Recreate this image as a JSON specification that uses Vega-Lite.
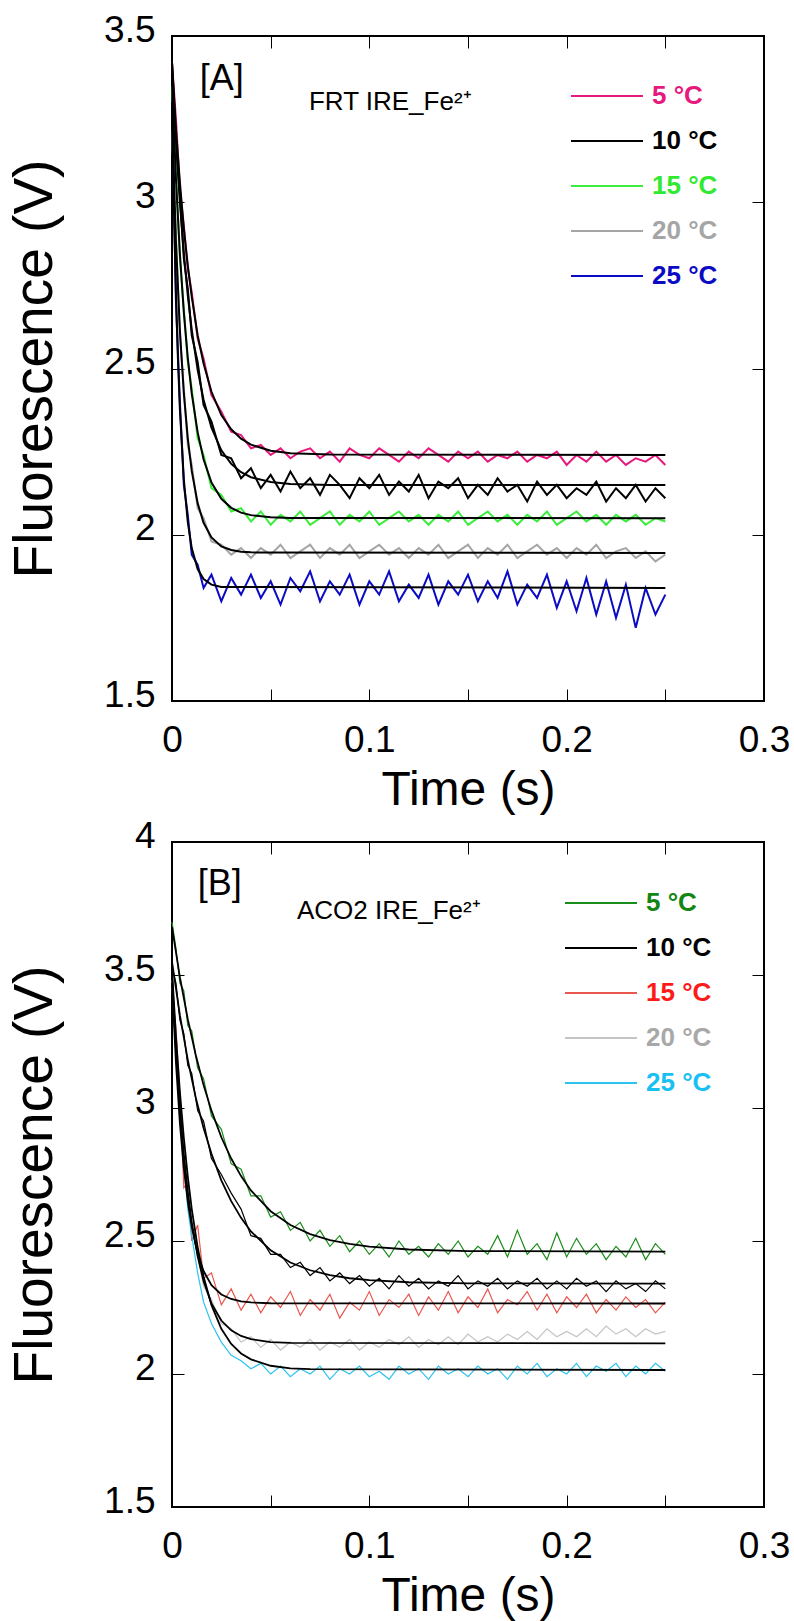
{
"$schema": "https://vega.github.io/schema/vega-lite/v6.json",
"background": "white",
"padding": {"left": 6, "top": 10, "right": 0, "bottom": 0},
"spacing": 1,
"config": {
  "font": "Liberation Sans",
  "view": {"stroke": "black", "strokeWidth": 2},
  "axis": {"domain": false, "grid": false, "tickColor": "black", "tickWidth": 1, "tickSize": -12, "labelColor": "black", "titleColor": "black", "labelFont": "Liberation Sans", "titleFont": "Liberation Sans", "titleFontWeight": "normal", "labelFontSize": 37, "titleFontSize": 48},
  "legend": {"orient": "none", "title": null, "symbolType": "M-3,0H3", "symbolSize": 576, "symbolStrokeWidth": 2, "symbolFillColor": "transparent", "labelFontSize": 26, "labelFontWeight": "bold", "labelFont": "Liberation Sans", "labelOffset": 32, "rowPadding": 19, "padding": 0}
},
"datasets": {
"a": [
{"s":"5","t":0,"v":3.42},{"s":"5","t":0.002,"v":3.25},{"s":"5","t":0.004,"v":3.04},{"s":"5","t":0.006,"v":2.93},{"s":"5","t":0.008,"v":2.8},{"s":"5","t":0.01,"v":2.73},{"s":"5","t":0.013,"v":2.59},{"s":"5","t":0.016,"v":2.53},{"s":"5","t":0.02,"v":2.42},{"s":"5","t":0.025,"v":2.37},{"s":"5","t":0.03,"v":2.31},{"s":"5","t":0.035,"v":2.3},{"s":"5","t":0.04,"v":2.26},{"s":"5","t":0.045,"v":2.27},{"s":"5","t":0.05,"v":2.24},{"s":"5","t":0.055,"v":2.26},{"s":"5","t":0.06,"v":2.23},{"s":"5","t":0.065,"v":2.25},{"s":"5","t":0.07,"v":2.26},{"s":"5","t":0.075,"v":2.23},{"s":"5","t":0.08,"v":2.25},{"s":"5","t":0.085,"v":2.22},{"s":"5","t":0.09,"v":2.26},{"s":"5","t":0.095,"v":2.24},{"s":"5","t":0.1,"v":2.23},{"s":"5","t":0.105,"v":2.26},{"s":"5","t":0.11,"v":2.24},{"s":"5","t":0.115,"v":2.22},{"s":"5","t":0.12,"v":2.25},{"s":"5","t":0.125,"v":2.23},{"s":"5","t":0.13,"v":2.26},{"s":"5","t":0.135,"v":2.24},{"s":"5","t":0.14,"v":2.22},{"s":"5","t":0.145,"v":2.25},{"s":"5","t":0.15,"v":2.23},{"s":"5","t":0.155,"v":2.25},{"s":"5","t":0.16,"v":2.22},{"s":"5","t":0.165,"v":2.24},{"s":"5","t":0.17,"v":2.23},{"s":"5","t":0.175,"v":2.25},{"s":"5","t":0.18,"v":2.22},{"s":"5","t":0.185,"v":2.24},{"s":"5","t":0.19,"v":2.23},{"s":"5","t":0.195,"v":2.25},{"s":"5","t":0.2,"v":2.21},{"s":"5","t":0.205,"v":2.24},{"s":"5","t":0.21,"v":2.22},{"s":"5","t":0.215,"v":2.25},{"s":"5","t":0.22,"v":2.22},{"s":"5","t":0.225,"v":2.24},{"s":"5","t":0.23,"v":2.21},{"s":"5","t":0.235,"v":2.23},{"s":"5","t":0.24,"v":2.22},{"s":"5","t":0.245,"v":2.24},{"s":"5","t":0.25,"v":2.21},
{"s":"10","t":0,"v":3.4},{"s":"10","t":0.002,"v":3.17},{"s":"10","t":0.004,"v":3.02},{"s":"10","t":0.006,"v":2.83},{"s":"10","t":0.008,"v":2.74},{"s":"10","t":0.01,"v":2.6},{"s":"10","t":0.013,"v":2.52},{"s":"10","t":0.016,"v":2.39},{"s":"10","t":0.02,"v":2.34},{"s":"10","t":0.025,"v":2.24},{"s":"10","t":0.03,"v":2.23},{"s":"10","t":0.035,"v":2.17},{"s":"10","t":0.04,"v":2.2},{"s":"10","t":0.045,"v":2.14},{"s":"10","t":0.05,"v":2.18},{"s":"10","t":0.055,"v":2.13},{"s":"10","t":0.06,"v":2.19},{"s":"10","t":0.065,"v":2.14},{"s":"10","t":0.07,"v":2.17},{"s":"10","t":0.075,"v":2.12},{"s":"10","t":0.08,"v":2.18},{"s":"10","t":0.085,"v":2.15},{"s":"10","t":0.09,"v":2.11},{"s":"10","t":0.095,"v":2.17},{"s":"10","t":0.1,"v":2.14},{"s":"10","t":0.105,"v":2.18},{"s":"10","t":0.11,"v":2.12},{"s":"10","t":0.115,"v":2.16},{"s":"10","t":0.12,"v":2.13},{"s":"10","t":0.125,"v":2.18},{"s":"10","t":0.13,"v":2.11},{"s":"10","t":0.135,"v":2.16},{"s":"10","t":0.14,"v":2.14},{"s":"10","t":0.145,"v":2.17},{"s":"10","t":0.15,"v":2.11},{"s":"10","t":0.155,"v":2.15},{"s":"10","t":0.16,"v":2.12},{"s":"10","t":0.165,"v":2.17},{"s":"10","t":0.17,"v":2.13},{"s":"10","t":0.175,"v":2.15},{"s":"10","t":0.18,"v":2.1},{"s":"10","t":0.185,"v":2.16},{"s":"10","t":0.19,"v":2.12},{"s":"10","t":0.195,"v":2.15},{"s":"10","t":0.2,"v":2.11},{"s":"10","t":0.205,"v":2.14},{"s":"10","t":0.21,"v":2.12},{"s":"10","t":0.215,"v":2.16},{"s":"10","t":0.22,"v":2.1},{"s":"10","t":0.225,"v":2.14},{"s":"10","t":0.23,"v":2.11},{"s":"10","t":0.235,"v":2.15},{"s":"10","t":0.24,"v":2.1},{"s":"10","t":0.245,"v":2.14},{"s":"10","t":0.25,"v":2.11},
{"s":"15","t":0,"v":3.35},{"s":"15","t":0.002,"v":3.09},{"s":"15","t":0.004,"v":2.83},{"s":"15","t":0.006,"v":2.68},{"s":"15","t":0.008,"v":2.52},{"s":"15","t":0.01,"v":2.44},{"s":"15","t":0.013,"v":2.29},{"s":"15","t":0.016,"v":2.24},{"s":"15","t":0.02,"v":2.14},{"s":"15","t":0.025,"v":2.12},{"s":"15","t":0.03,"v":2.07},{"s":"15","t":0.035,"v":2.08},{"s":"15","t":0.04,"v":2.04},{"s":"15","t":0.045,"v":2.07},{"s":"15","t":0.05,"v":2.03},{"s":"15","t":0.055,"v":2.06},{"s":"15","t":0.06,"v":2.04},{"s":"15","t":0.065,"v":2.07},{"s":"15","t":0.07,"v":2.03},{"s":"15","t":0.075,"v":2.05},{"s":"15","t":0.08,"v":2.07},{"s":"15","t":0.085,"v":2.03},{"s":"15","t":0.09,"v":2.06},{"s":"15","t":0.095,"v":2.04},{"s":"15","t":0.1,"v":2.07},{"s":"15","t":0.105,"v":2.03},{"s":"15","t":0.11,"v":2.05},{"s":"15","t":0.115,"v":2.07},{"s":"15","t":0.12,"v":2.04},{"s":"15","t":0.125,"v":2.06},{"s":"15","t":0.13,"v":2.03},{"s":"15","t":0.135,"v":2.06},{"s":"15","t":0.14,"v":2.04},{"s":"15","t":0.145,"v":2.07},{"s":"15","t":0.15,"v":2.03},{"s":"15","t":0.155,"v":2.05},{"s":"15","t":0.16,"v":2.07},{"s":"15","t":0.165,"v":2.04},{"s":"15","t":0.17,"v":2.06},{"s":"15","t":0.175,"v":2.03},{"s":"15","t":0.18,"v":2.06},{"s":"15","t":0.185,"v":2.04},{"s":"15","t":0.19,"v":2.07},{"s":"15","t":0.195,"v":2.03},{"s":"15","t":0.2,"v":2.05},{"s":"15","t":0.205,"v":2.07},{"s":"15","t":0.21,"v":2.04},{"s":"15","t":0.215,"v":2.06},{"s":"15","t":0.22,"v":2.03},{"s":"15","t":0.225,"v":2.06},{"s":"15","t":0.23,"v":2.04},{"s":"15","t":0.235,"v":2.06},{"s":"15","t":0.24,"v":2.03},{"s":"15","t":0.245,"v":2.05},{"s":"15","t":0.25,"v":2.04},
{"s":"20","t":0,"v":3.22},{"s":"20","t":0.002,"v":2.9},{"s":"20","t":0.004,"v":2.6},{"s":"20","t":0.006,"v":2.44},{"s":"20","t":0.008,"v":2.27},{"s":"20","t":0.01,"v":2.21},{"s":"20","t":0.013,"v":2.08},{"s":"20","t":0.016,"v":2.05},{"s":"20","t":0.02,"v":1.98},{"s":"20","t":0.025,"v":1.97},{"s":"20","t":0.03,"v":1.94},{"s":"20","t":0.035,"v":1.96},{"s":"20","t":0.04,"v":1.93},{"s":"20","t":0.045,"v":1.96},{"s":"20","t":0.05,"v":1.94},{"s":"20","t":0.055,"v":1.97},{"s":"20","t":0.06,"v":1.93},{"s":"20","t":0.065,"v":1.95},{"s":"20","t":0.07,"v":1.97},{"s":"20","t":0.075,"v":1.93},{"s":"20","t":0.08,"v":1.96},{"s":"20","t":0.085,"v":1.94},{"s":"20","t":0.09,"v":1.97},{"s":"20","t":0.095,"v":1.93},{"s":"20","t":0.1,"v":1.95},{"s":"20","t":0.105,"v":1.97},{"s":"20","t":0.11,"v":1.94},{"s":"20","t":0.115,"v":1.96},{"s":"20","t":0.12,"v":1.93},{"s":"20","t":0.125,"v":1.96},{"s":"20","t":0.13,"v":1.94},{"s":"20","t":0.135,"v":1.97},{"s":"20","t":0.14,"v":1.93},{"s":"20","t":0.145,"v":1.95},{"s":"20","t":0.15,"v":1.97},{"s":"20","t":0.155,"v":1.93},{"s":"20","t":0.16,"v":1.96},{"s":"20","t":0.165,"v":1.94},{"s":"20","t":0.17,"v":1.97},{"s":"20","t":0.175,"v":1.93},{"s":"20","t":0.18,"v":1.95},{"s":"20","t":0.185,"v":1.97},{"s":"20","t":0.19,"v":1.94},{"s":"20","t":0.195,"v":1.96},{"s":"20","t":0.2,"v":1.93},{"s":"20","t":0.205,"v":1.96},{"s":"20","t":0.21,"v":1.94},{"s":"20","t":0.215,"v":1.97},{"s":"20","t":0.22,"v":1.93},{"s":"20","t":0.225,"v":1.95},{"s":"20","t":0.23,"v":1.96},{"s":"20","t":0.235,"v":1.93},{"s":"20","t":0.24,"v":1.95},{"s":"20","t":0.245,"v":1.92},{"s":"20","t":0.25,"v":1.94},
{"s":"25","t":0,"v":3.3},{"s":"25","t":0.002,"v":2.7},{"s":"25","t":0.004,"v":2.4},{"s":"25","t":0.006,"v":2.15},{"s":"25","t":0.008,"v":2.06},{"s":"25","t":0.01,"v":1.94},{"s":"25","t":0.013,"v":1.91},{"s":"25","t":0.016,"v":1.84},{"s":"25","t":0.02,"v":1.88},{"s":"25","t":0.025,"v":1.8},{"s":"25","t":0.03,"v":1.87},{"s":"25","t":0.035,"v":1.82},{"s":"25","t":0.04,"v":1.88},{"s":"25","t":0.045,"v":1.81},{"s":"25","t":0.05,"v":1.86},{"s":"25","t":0.055,"v":1.79},{"s":"25","t":0.06,"v":1.87},{"s":"25","t":0.065,"v":1.83},{"s":"25","t":0.07,"v":1.89},{"s":"25","t":0.075,"v":1.8},{"s":"25","t":0.08,"v":1.86},{"s":"25","t":0.085,"v":1.82},{"s":"25","t":0.09,"v":1.88},{"s":"25","t":0.095,"v":1.79},{"s":"25","t":0.1,"v":1.86},{"s":"25","t":0.105,"v":1.82},{"s":"25","t":0.11,"v":1.89},{"s":"25","t":0.115,"v":1.8},{"s":"25","t":0.12,"v":1.85},{"s":"25","t":0.125,"v":1.81},{"s":"25","t":0.13,"v":1.88},{"s":"25","t":0.135,"v":1.79},{"s":"25","t":0.14,"v":1.86},{"s":"25","t":0.145,"v":1.82},{"s":"25","t":0.15,"v":1.88},{"s":"25","t":0.155,"v":1.8},{"s":"25","t":0.16,"v":1.86},{"s":"25","t":0.165,"v":1.81},{"s":"25","t":0.17,"v":1.89},{"s":"25","t":0.175,"v":1.79},{"s":"25","t":0.18,"v":1.85},{"s":"25","t":0.185,"v":1.81},{"s":"25","t":0.19,"v":1.88},{"s":"25","t":0.195,"v":1.78},{"s":"25","t":0.2,"v":1.86},{"s":"25","t":0.205,"v":1.77},{"s":"25","t":0.21,"v":1.87},{"s":"25","t":0.215,"v":1.76},{"s":"25","t":0.22,"v":1.86},{"s":"25","t":0.225,"v":1.75},{"s":"25","t":0.23,"v":1.85},{"s":"25","t":0.235,"v":1.72},{"s":"25","t":0.24,"v":1.84},{"s":"25","t":0.245,"v":1.76},{"s":"25","t":0.25,"v":1.82}
],
"af": [
{"s":"5","t":0,"v":3.42},{"s":"5","t":0.002,"v":3.22},{"s":"5","t":0.004,"v":3.06},{"s":"5","t":0.006,"v":2.92},{"s":"5","t":0.008,"v":2.81},{"s":"5","t":0.01,"v":2.716},{"s":"5","t":0.013,"v":2.6},{"s":"5","t":0.016,"v":2.515},{"s":"5","t":0.02,"v":2.43},{"s":"5","t":0.025,"v":2.36},{"s":"5","t":0.03,"v":2.317},{"s":"5","t":0.035,"v":2.289},{"s":"5","t":0.04,"v":2.271},{"s":"5","t":0.05,"v":2.2525},{"s":"5","t":0.06,"v":2.245},{"s":"5","t":0.08,"v":2.241},{"s":"5","t":0.25,"v":2.24},
{"s":"10","t":0,"v":3.42},{"s":"10","t":0.002,"v":3.19},{"s":"10","t":0.004,"v":3.0},{"s":"10","t":0.006,"v":2.847},{"s":"10","t":0.008,"v":2.72},{"s":"10","t":0.01,"v":2.617},{"s":"10","t":0.013,"v":2.496},{"s":"10","t":0.016,"v":2.406},{"s":"10","t":0.02,"v":2.322},{"s":"10","t":0.025,"v":2.254},{"s":"10","t":0.03,"v":2.213},{"s":"10","t":0.035,"v":2.188},{"s":"10","t":0.04,"v":2.173},{"s":"10","t":0.05,"v":2.1585},{"s":"10","t":0.06,"v":2.153},{"s":"10","t":0.08,"v":2.15},{"s":"10","t":0.25,"v":2.15},
{"s":"15","t":0,"v":3.36},{"s":"15","t":0.002,"v":3.07},{"s":"15","t":0.004,"v":2.845},{"s":"15","t":0.006,"v":2.668},{"s":"15","t":0.008,"v":2.532},{"s":"15","t":0.01,"v":2.425},{"s":"15","t":0.013,"v":2.308},{"s":"15","t":0.016,"v":2.227},{"s":"15","t":0.02,"v":2.157},{"s":"15","t":0.025,"v":2.108},{"s":"15","t":0.03,"v":2.081},{"s":"15","t":0.035,"v":2.0665},{"s":"15","t":0.04,"v":2.059},{"s":"15","t":0.05,"v":2.0525},{"s":"15","t":0.06,"v":2.0507},{"s":"15","t":0.25,"v":2.05},
{"s":"20","t":0,"v":3.25},{"s":"20","t":0.002,"v":2.88},{"s":"20","t":0.004,"v":2.615},{"s":"20","t":0.006,"v":2.425},{"s":"20","t":0.008,"v":2.29},{"s":"20","t":0.01,"v":2.192},{"s":"20","t":0.013,"v":2.095},{"s":"20","t":0.016,"v":2.036},{"s":"20","t":0.02,"v":1.992},{"s":"20","t":0.025,"v":1.965},{"s":"20","t":0.03,"v":1.954},{"s":"20","t":0.035,"v":1.949},{"s":"20","t":0.04,"v":1.947},{"s":"20","t":0.25,"v":1.945},
{"s":"25","t":0,"v":3.3},{"s":"25","t":0.001,"v":2.977},{"s":"25","t":0.002,"v":2.726},{"s":"25","t":0.003,"v":2.53},{"s":"25","t":0.004,"v":2.377},{"s":"25","t":0.006,"v":2.166},{"s":"25","t":0.008,"v":2.038},{"s":"25","t":0.01,"v":1.96},{"s":"25","t":0.013,"v":1.897},{"s":"25","t":0.016,"v":1.867},{"s":"25","t":0.02,"v":1.85},{"s":"25","t":0.025,"v":1.843},{"s":"25","t":0.25,"v":1.84}
],
"b": [
{"s":"5","t":0,"v":3.7},{"s":"5","t":0.002,"v":3.6},{"s":"5","t":0.004,"v":3.47},{"s":"5","t":0.006,"v":3.44},{"s":"5","t":0.008,"v":3.31},{"s":"5","t":0.01,"v":3.29},{"s":"5","t":0.013,"v":3.15},{"s":"5","t":0.016,"v":3.11},{"s":"5","t":0.02,"v":2.97},{"s":"5","t":0.025,"v":2.92},{"s":"5","t":0.03,"v":2.79},{"s":"5","t":0.035,"v":2.77},{"s":"5","t":0.04,"v":2.67},{"s":"5","t":0.045,"v":2.67},{"s":"5","t":0.05,"v":2.59},{"s":"5","t":0.055,"v":2.61},{"s":"5","t":0.06,"v":2.54},{"s":"5","t":0.065,"v":2.57},{"s":"5","t":0.07,"v":2.5},{"s":"5","t":0.075,"v":2.54},{"s":"5","t":0.08,"v":2.48},{"s":"5","t":0.085,"v":2.52},{"s":"5","t":0.09,"v":2.46},{"s":"5","t":0.095,"v":2.5},{"s":"5","t":0.1,"v":2.45},{"s":"5","t":0.105,"v":2.49},{"s":"5","t":0.11,"v":2.44},{"s":"5","t":0.115,"v":2.5},{"s":"5","t":0.12,"v":2.45},{"s":"5","t":0.125,"v":2.48},{"s":"5","t":0.13,"v":2.44},{"s":"5","t":0.135,"v":2.49},{"s":"5","t":0.14,"v":2.45},{"s":"5","t":0.145,"v":2.5},{"s":"5","t":0.15,"v":2.44},{"s":"5","t":0.155,"v":2.48},{"s":"5","t":0.16,"v":2.45},{"s":"5","t":0.165,"v":2.52},{"s":"5","t":0.17,"v":2.44},{"s":"5","t":0.175,"v":2.54},{"s":"5","t":0.18,"v":2.45},{"s":"5","t":0.185,"v":2.49},{"s":"5","t":0.19,"v":2.43},{"s":"5","t":0.195,"v":2.53},{"s":"5","t":0.2,"v":2.44},{"s":"5","t":0.205,"v":2.51},{"s":"5","t":0.21,"v":2.45},{"s":"5","t":0.215,"v":2.49},{"s":"5","t":0.22,"v":2.43},{"s":"5","t":0.225,"v":2.48},{"s":"5","t":0.23,"v":2.44},{"s":"5","t":0.235,"v":2.51},{"s":"5","t":0.24,"v":2.43},{"s":"5","t":0.245,"v":2.49},{"s":"5","t":0.25,"v":2.45},
{"s":"10","t":0,"v":3.53},{"s":"10","t":0.002,"v":3.47},{"s":"10","t":0.004,"v":3.33},{"s":"10","t":0.006,"v":3.28},{"s":"10","t":0.008,"v":3.16},{"s":"10","t":0.01,"v":3.13},{"s":"10","t":0.013,"v":2.99},{"s":"10","t":0.016,"v":2.95},{"s":"10","t":0.02,"v":2.81},{"s":"10","t":0.025,"v":2.75},{"s":"10","t":0.03,"v":2.68},{"s":"10","t":0.035,"v":2.62},{"s":"10","t":0.04,"v":2.52},{"s":"10","t":0.045,"v":2.51},{"s":"10","t":0.05,"v":2.45},{"s":"10","t":0.055,"v":2.45},{"s":"10","t":0.06,"v":2.4},{"s":"10","t":0.065,"v":2.42},{"s":"10","t":0.07,"v":2.37},{"s":"10","t":0.075,"v":2.4},{"s":"10","t":0.08,"v":2.35},{"s":"10","t":0.085,"v":2.38},{"s":"10","t":0.09,"v":2.34},{"s":"10","t":0.095,"v":2.37},{"s":"10","t":0.1,"v":2.33},{"s":"10","t":0.105,"v":2.36},{"s":"10","t":0.11,"v":2.32},{"s":"10","t":0.115,"v":2.37},{"s":"10","t":0.12,"v":2.33},{"s":"10","t":0.125,"v":2.36},{"s":"10","t":0.13,"v":2.32},{"s":"10","t":0.135,"v":2.35},{"s":"10","t":0.14,"v":2.33},{"s":"10","t":0.145,"v":2.37},{"s":"10","t":0.15,"v":2.32},{"s":"10","t":0.155,"v":2.35},{"s":"10","t":0.16,"v":2.33},{"s":"10","t":0.165,"v":2.36},{"s":"10","t":0.17,"v":2.32},{"s":"10","t":0.175,"v":2.35},{"s":"10","t":0.18,"v":2.33},{"s":"10","t":0.185,"v":2.36},{"s":"10","t":0.19,"v":2.32},{"s":"10","t":0.195,"v":2.35},{"s":"10","t":0.2,"v":2.32},{"s":"10","t":0.205,"v":2.36},{"s":"10","t":0.21,"v":2.33},{"s":"10","t":0.215,"v":2.35},{"s":"10","t":0.22,"v":2.31},{"s":"10","t":0.225,"v":2.35},{"s":"10","t":0.23,"v":2.32},{"s":"10","t":0.235,"v":2.34},{"s":"10","t":0.24,"v":2.31},{"s":"10","t":0.245,"v":2.35},{"s":"10","t":0.25,"v":2.32},
{"s":"15","t":0,"v":3.45},{"s":"15","t":0.002,"v":3.3},{"s":"15","t":0.004,"v":3.05},{"s":"15","t":0.006,"v":2.7},{"s":"15","t":0.008,"v":2.72},{"s":"15","t":0.01,"v":2.5},{"s":"15","t":0.013,"v":2.56},{"s":"15","t":0.016,"v":2.36},{"s":"15","t":0.02,"v":2.38},{"s":"15","t":0.025,"v":2.26},{"s":"15","t":0.03,"v":2.32},{"s":"15","t":0.035,"v":2.24},{"s":"15","t":0.04,"v":2.3},{"s":"15","t":0.045,"v":2.23},{"s":"15","t":0.05,"v":2.29},{"s":"15","t":0.055,"v":2.25},{"s":"15","t":0.06,"v":2.31},{"s":"15","t":0.065,"v":2.22},{"s":"15","t":0.07,"v":2.28},{"s":"15","t":0.075,"v":2.24},{"s":"15","t":0.08,"v":2.3},{"s":"15","t":0.085,"v":2.21},{"s":"15","t":0.09,"v":2.27},{"s":"15","t":0.095,"v":2.24},{"s":"15","t":0.1,"v":2.31},{"s":"15","t":0.105,"v":2.22},{"s":"15","t":0.11,"v":2.28},{"s":"15","t":0.115,"v":2.25},{"s":"15","t":0.12,"v":2.3},{"s":"15","t":0.125,"v":2.22},{"s":"15","t":0.13,"v":2.29},{"s":"15","t":0.135,"v":2.24},{"s":"15","t":0.14,"v":2.31},{"s":"15","t":0.145,"v":2.23},{"s":"15","t":0.15,"v":2.29},{"s":"15","t":0.155,"v":2.25},{"s":"15","t":0.16,"v":2.32},{"s":"15","t":0.165,"v":2.23},{"s":"15","t":0.17,"v":2.28},{"s":"15","t":0.175,"v":2.26},{"s":"15","t":0.18,"v":2.31},{"s":"15","t":0.185,"v":2.24},{"s":"15","t":0.19,"v":2.3},{"s":"15","t":0.195,"v":2.23},{"s":"15","t":0.2,"v":2.29},{"s":"15","t":0.205,"v":2.25},{"s":"15","t":0.21,"v":2.3},{"s":"15","t":0.215,"v":2.23},{"s":"15","t":0.22,"v":2.28},{"s":"15","t":0.225,"v":2.24},{"s":"15","t":0.23,"v":2.29},{"s":"15","t":0.235,"v":2.25},{"s":"15","t":0.24,"v":2.28},{"s":"15","t":0.245,"v":2.23},{"s":"15","t":0.25,"v":2.27},
{"s":"20","t":0,"v":3.48},{"s":"20","t":0.002,"v":3.2},{"s":"20","t":0.004,"v":3.02},{"s":"20","t":0.006,"v":2.8},{"s":"20","t":0.008,"v":2.7},{"s":"20","t":0.01,"v":2.55},{"s":"20","t":0.013,"v":2.45},{"s":"20","t":0.016,"v":2.33},{"s":"20","t":0.02,"v":2.28},{"s":"20","t":0.025,"v":2.19},{"s":"20","t":0.03,"v":2.17},{"s":"20","t":0.035,"v":2.12},{"s":"20","t":0.04,"v":2.14},{"s":"20","t":0.045,"v":2.1},{"s":"20","t":0.05,"v":2.13},{"s":"20","t":0.055,"v":2.09},{"s":"20","t":0.06,"v":2.12},{"s":"20","t":0.065,"v":2.1},{"s":"20","t":0.07,"v":2.13},{"s":"20","t":0.075,"v":2.09},{"s":"20","t":0.08,"v":2.12},{"s":"20","t":0.085,"v":2.1},{"s":"20","t":0.09,"v":2.13},{"s":"20","t":0.095,"v":2.09},{"s":"20","t":0.1,"v":2.12},{"s":"20","t":0.105,"v":2.1},{"s":"20","t":0.11,"v":2.13},{"s":"20","t":0.115,"v":2.11},{"s":"20","t":0.12,"v":2.14},{"s":"20","t":0.125,"v":2.1},{"s":"20","t":0.13,"v":2.13},{"s":"20","t":0.135,"v":2.11},{"s":"20","t":0.14,"v":2.14},{"s":"20","t":0.145,"v":2.11},{"s":"20","t":0.15,"v":2.15},{"s":"20","t":0.155,"v":2.12},{"s":"20","t":0.16,"v":2.14},{"s":"20","t":0.165,"v":2.12},{"s":"20","t":0.17,"v":2.15},{"s":"20","t":0.175,"v":2.13},{"s":"20","t":0.18,"v":2.16},{"s":"20","t":0.185,"v":2.13},{"s":"20","t":0.19,"v":2.17},{"s":"20","t":0.195,"v":2.14},{"s":"20","t":0.2,"v":2.16},{"s":"20","t":0.205,"v":2.14},{"s":"20","t":0.21,"v":2.17},{"s":"20","t":0.215,"v":2.14},{"s":"20","t":0.22,"v":2.18},{"s":"20","t":0.225,"v":2.15},{"s":"20","t":0.23,"v":2.17},{"s":"20","t":0.235,"v":2.14},{"s":"20","t":0.24,"v":2.17},{"s":"20","t":0.245,"v":2.15},{"s":"20","t":0.25,"v":2.16},
{"s":"25","t":0,"v":3.5},{"s":"25","t":0.002,"v":3.2},{"s":"25","t":0.004,"v":2.95},{"s":"25","t":0.006,"v":2.8},{"s":"25","t":0.008,"v":2.62},{"s":"25","t":0.01,"v":2.52},{"s":"25","t":0.013,"v":2.38},{"s":"25","t":0.016,"v":2.27},{"s":"25","t":0.02,"v":2.19},{"s":"25","t":0.025,"v":2.12},{"s":"25","t":0.03,"v":2.07},{"s":"25","t":0.035,"v":2.05},{"s":"25","t":0.04,"v":2.02},{"s":"25","t":0.045,"v":2.04},{"s":"25","t":0.05,"v":2.0},{"s":"25","t":0.055,"v":2.03},{"s":"25","t":0.06,"v":1.99},{"s":"25","t":0.065,"v":2.02},{"s":"25","t":0.07,"v":2.0},{"s":"25","t":0.075,"v":2.03},{"s":"25","t":0.08,"v":1.98},{"s":"25","t":0.085,"v":2.02},{"s":"25","t":0.09,"v":2.0},{"s":"25","t":0.095,"v":2.03},{"s":"25","t":0.1,"v":1.99},{"s":"25","t":0.105,"v":2.01},{"s":"25","t":0.11,"v":1.98},{"s":"25","t":0.115,"v":2.03},{"s":"25","t":0.12,"v":2.0},{"s":"25","t":0.125,"v":2.02},{"s":"25","t":0.13,"v":1.98},{"s":"25","t":0.135,"v":2.03},{"s":"25","t":0.14,"v":2.0},{"s":"25","t":0.145,"v":2.02},{"s":"25","t":0.15,"v":1.99},{"s":"25","t":0.155,"v":2.03},{"s":"25","t":0.16,"v":2.0},{"s":"25","t":0.165,"v":2.02},{"s":"25","t":0.17,"v":1.98},{"s":"25","t":0.175,"v":2.03},{"s":"25","t":0.18,"v":2.0},{"s":"25","t":0.185,"v":2.04},{"s":"25","t":0.19,"v":1.99},{"s":"25","t":0.195,"v":2.02},{"s":"25","t":0.2,"v":2.0},{"s":"25","t":0.205,"v":2.04},{"s":"25","t":0.21,"v":1.99},{"s":"25","t":0.215,"v":2.03},{"s":"25","t":0.22,"v":2.01},{"s":"25","t":0.225,"v":2.04},{"s":"25","t":0.23,"v":1.99},{"s":"25","t":0.235,"v":2.03},{"s":"25","t":0.24,"v":2.0},{"s":"25","t":0.245,"v":2.04},{"s":"25","t":0.25,"v":2.01}
],
"bf": [
{"s":"5","t":0,"v":3.68},{"s":"5","t":0.004,"v":3.492},{"s":"5","t":0.008,"v":3.334},{"s":"5","t":0.012,"v":3.2},{"s":"5","t":0.016,"v":3.086},{"s":"5","t":0.02,"v":2.99},{"s":"5","t":0.025,"v":2.89},{"s":"5","t":0.03,"v":2.81},{"s":"5","t":0.035,"v":2.744},{"s":"5","t":0.04,"v":2.69},{"s":"5","t":0.05,"v":2.612},{"s":"5","t":0.06,"v":2.56},{"s":"5","t":0.07,"v":2.526},{"s":"5","t":0.08,"v":2.5035},{"s":"5","t":0.09,"v":2.489},{"s":"5","t":0.1,"v":2.479},{"s":"5","t":0.12,"v":2.468},{"s":"5","t":0.15,"v":2.462},{"s":"5","t":0.25,"v":2.46},
{"s":"10","t":0,"v":3.55},{"s":"10","t":0.004,"v":3.349},{"s":"10","t":0.008,"v":3.181},{"s":"10","t":0.012,"v":3.04},{"s":"10","t":0.016,"v":2.925},{"s":"10","t":0.02,"v":2.828},{"s":"10","t":0.025,"v":2.728},{"s":"10","t":0.03,"v":2.65},{"s":"10","t":0.035,"v":2.587},{"s":"10","t":0.04,"v":2.536},{"s":"10","t":0.05,"v":2.465},{"s":"10","t":0.06,"v":2.419},{"s":"10","t":0.07,"v":2.39},{"s":"10","t":0.08,"v":2.372},{"s":"10","t":0.09,"v":2.36},{"s":"10","t":0.1,"v":2.353},{"s":"10","t":0.12,"v":2.345},{"s":"10","t":0.15,"v":2.341},{"s":"10","t":0.25,"v":2.34},
{"s":"15","t":0,"v":3.47},{"s":"15","t":0.002,"v":3.17},{"s":"15","t":0.004,"v":2.943},{"s":"15","t":0.006,"v":2.774},{"s":"15","t":0.008,"v":2.648},{"s":"15","t":0.01,"v":2.553},{"s":"15","t":0.013,"v":2.452},{"s":"15","t":0.016,"v":2.387},{"s":"15","t":0.02,"v":2.334},{"s":"15","t":0.025,"v":2.299},{"s":"15","t":0.03,"v":2.282},{"s":"15","t":0.035,"v":2.273},{"s":"15","t":0.04,"v":2.269},{"s":"15","t":0.05,"v":2.266},{"s":"15","t":0.25,"v":2.265},
{"s":"20","t":0,"v":3.5},{"s":"20","t":0.002,"v":3.224},{"s":"20","t":0.004,"v":3.003},{"s":"20","t":0.006,"v":2.826},{"s":"20","t":0.008,"v":2.684},{"s":"20","t":0.01,"v":2.571},{"s":"20","t":0.013,"v":2.442},{"s":"20","t":0.016,"v":2.349},{"s":"20","t":0.02,"v":2.265},{"s":"20","t":0.025,"v":2.201},{"s":"20","t":0.03,"v":2.164},{"s":"20","t":0.035,"v":2.143},{"s":"20","t":0.04,"v":2.131},{"s":"20","t":0.05,"v":2.12},{"s":"20","t":0.06,"v":2.117},{"s":"20","t":0.25,"v":2.115},
{"s":"25","t":0,"v":3.52},{"s":"25","t":0.002,"v":3.27},{"s":"25","t":0.004,"v":3.061},{"s":"25","t":0.006,"v":2.888},{"s":"25","t":0.008,"v":2.742},{"s":"25","t":0.01,"v":2.621},{"s":"25","t":0.013,"v":2.477},{"s":"25","t":0.016,"v":2.367},{"s":"25","t":0.02,"v":2.259},{"s":"25","t":0.025,"v":2.17},{"s":"25","t":0.03,"v":2.113},{"s":"25","t":0.035,"v":2.077},{"s":"25","t":0.04,"v":2.055},{"s":"25","t":0.05,"v":2.031},{"s":"25","t":0.06,"v":2.0215},{"s":"25","t":0.07,"v":2.018},{"s":"25","t":0.25,"v":2.015}
]
},
"vconcat": [
{
  "width": 592, "height": 665,
  "layer": [
    {"data": {"name": "a"}, "mark": {"type": "line", "strokeWidth": 2},
     "encoding": {
       "x": {"field": "t", "type": "quantitative", "scale": {"domain": [0, 0.3], "nice": false, "zero": false},
             "axis": {"orient": "bottom", "values": [0, 0.05, 0.1, 0.15, 0.2, 0.25, 0.3], "labelExpr": "abs(datum.value*10 - round(datum.value*10)) < 0.001 ? format(datum.value, '~g') : ''", "labelPadding": 33, "labelFlush": false, "labelOverlap": false, "title": "Time (s)", "titlePadding": 8}},
       "y": {"field": "v", "type": "quantitative", "scale": {"domain": [1.5, 3.5], "nice": false, "zero": false},
             "axis": {"orient": "left", "values": [1.5, 2, 2.5, 3, 3.5], "labelExpr": "format(datum.value, '~g')", "labelPadding": 29, "labelOffset": -6, "labelFlush": false, "labelOverlap": false, "title": "Fluorescence (V)", "titleFontSize": 55, "titlePadding": 40}},
       "color": {"field": "s", "type": "nominal",
                 "scale": {"domain": ["5", "10", "15", "20", "25"], "range": ["#e6197c", "#000000", "#3ded3d", "#a5a5a5", "#0b0bc4"]},
                 "legend": {"legendX": 422, "legendY": 47, "labelExpr": "datum.label + ' °C'",
                            "encode": {"labels": {"update": {"fill": {"signal": "datum.value == '5' ? '#e6197c' : datum.value == '10' ? '#000000' : datum.value == '15' ? '#2fea2f' : datum.value == '20' ? '#a5a5a5' : '#0b0bc4'"}}}}}}
     }},
    {"data": {"name": "af"}, "mark": {"type": "line", "color": "black", "strokeWidth": 2},
     "encoding": {
       "x": {"field": "t", "type": "quantitative", "scale": {"domain": [0, 0.3], "nice": false, "zero": false},
             "axis": {"orient": "top", "values": [0, 0.05, 0.1, 0.15, 0.2, 0.25, 0.3], "labels": false, "title": null}},
       "y": {"field": "v", "type": "quantitative", "scale": {"domain": [1.5, 3.5], "nice": false, "zero": false},
             "axis": {"orient": "right", "values": [1.5, 2, 2.5, 3, 3.5], "labels": false, "title": null}},
       "detail": {"field": "s", "type": "nominal"}
     }},
    {"data": {"values": [{"label": "[A]"}]}, "mark": {"type": "text", "fontSize": 36, "align": "left", "baseline": "alphabetic", "color": "black"},
     "encoding": {"x": {"datum": 0.014, "type": "quantitative", "axis": null}, "y": {"datum": 3.338, "type": "quantitative", "axis": null}, "text": {"field": "label"}}},
    {"data": {"values": [{"label": "FRT IRE_Fe²⁺"}]}, "mark": {"type": "text", "fontSize": 26, "align": "left", "baseline": "alphabetic", "color": "black"},
     "encoding": {"x": {"datum": 0.0694, "type": "quantitative", "axis": null}, "y": {"datum": 3.2775, "type": "quantitative", "axis": null}, "text": {"field": "label"}}}
  ],
  "resolve": {"axis": {"x": "independent", "y": "independent"}}
},
{
  "width": 592, "height": 665,
  "layer": [
    {"data": {"name": "b"}, "mark": {"type": "line", "strokeWidth": 1.2},
     "encoding": {
       "x": {"field": "t", "type": "quantitative", "scale": {"domain": [0, 0.3], "nice": false, "zero": false},
             "axis": {"orient": "bottom", "values": [0, 0.05, 0.1, 0.15, 0.2, 0.25, 0.3], "labelExpr": "abs(datum.value*10 - round(datum.value*10)) < 0.001 ? format(datum.value, '~g') : ''", "labelPadding": 33, "labelFlush": false, "labelOverlap": false, "title": "Time (s)", "titlePadding": 8}},
       "y": {"field": "v", "type": "quantitative", "scale": {"domain": [1.5, 4], "nice": false, "zero": false},
             "axis": {"orient": "left", "values": [1.5, 2, 2.5, 3, 3.5, 4], "labelExpr": "format(datum.value, '~g')", "labelPadding": 29, "labelOffset": -6, "labelFlush": false, "labelOverlap": false, "title": "Fluorescence (V)", "titleFontSize": 55, "titlePadding": 40}},
       "color": {"field": "s", "type": "nominal",
                 "scale": {"domain": ["5", "10", "15", "20", "25"], "range": ["#1a8c1a", "#000000", "#e9574f", "#c4c4c4", "#2cc3ef"]},
                 "legend": {"legendX": 416, "legendY": 48, "labelExpr": "datum.label + ' °C'",
                            "encode": {"labels": {"update": {"fill": {"signal": "datum.value == '5' ? '#128512' : datum.value == '10' ? '#000000' : datum.value == '15' ? '#ff1a1a' : datum.value == '20' ? '#a8a8a8' : '#19c0f2'"}}}}}}
     }},
    {"data": {"name": "bf"}, "mark": {"type": "line", "color": "black", "strokeWidth": 1.8},
     "encoding": {
       "x": {"field": "t", "type": "quantitative", "scale": {"domain": [0, 0.3], "nice": false, "zero": false},
             "axis": {"orient": "top", "values": [0, 0.05, 0.1, 0.15, 0.2, 0.25, 0.3], "labels": false, "title": null}},
       "y": {"field": "v", "type": "quantitative", "scale": {"domain": [1.5, 4], "nice": false, "zero": false},
             "axis": {"orient": "right", "values": [1.5, 2, 2.5, 3, 3.5, 4], "labels": false, "title": null}},
       "detail": {"field": "s", "type": "nominal"}
     }},
    {"data": {"values": [{"label": "[B]"}]}, "mark": {"type": "text", "fontSize": 36, "align": "left", "baseline": "alphabetic", "color": "black"},
     "encoding": {"x": {"datum": 0.013, "type": "quantitative", "axis": null}, "y": {"datum": 3.8, "type": "quantitative", "axis": null}, "text": {"field": "label"}}},
    {"data": {"values": [{"label": "ACO2 IRE_Fe²⁺"}]}, "mark": {"type": "text", "fontSize": 26, "align": "left", "baseline": "alphabetic", "color": "black"},
     "encoding": {"x": {"datum": 0.0633, "type": "quantitative", "axis": null}, "y": {"datum": 3.71, "type": "quantitative", "axis": null}, "text": {"field": "label"}}}
  ],
  "resolve": {"axis": {"x": "independent", "y": "independent"}}
}
],
"resolve": {"scale": {"color": "independent", "x": "independent", "y": "independent"}, "legend": {"color": "independent"}}
}
